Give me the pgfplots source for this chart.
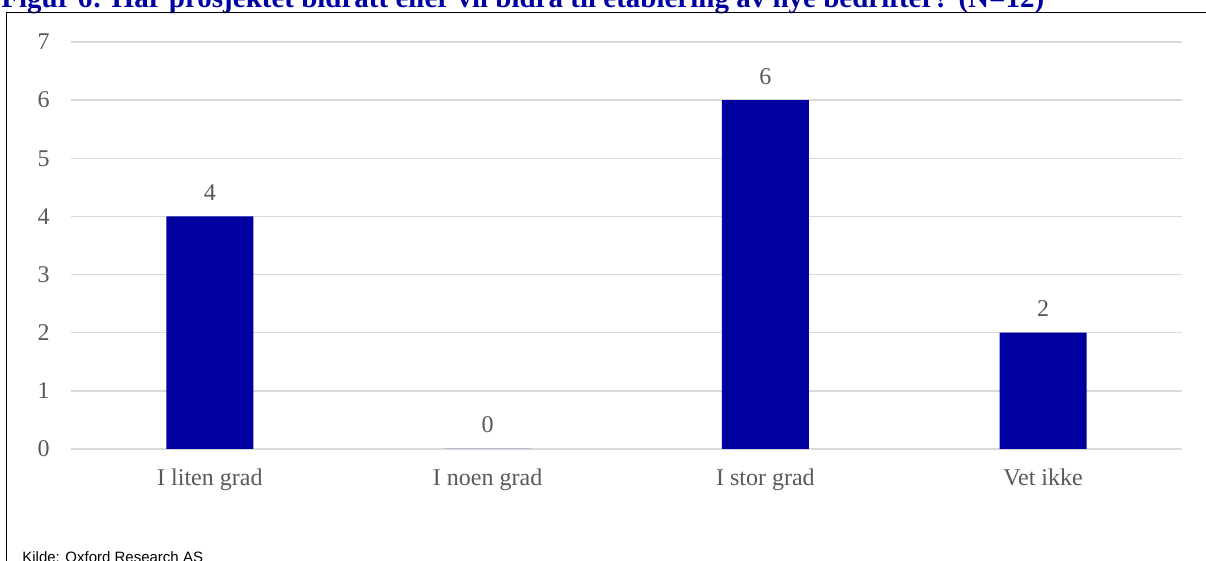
\documentclass[border=0pt]{standalone}
\usepackage{pgfplots}
\pgfplotsset{compat=1.18}
\usepackage{fontspec}
\setmainfont{Liberation Serif}
\newfontfamily\kildefont{Liberation Sans}
\definecolor{barblue}{RGB}{0,0,160}
\definecolor{titleblue}{RGB}{0,0,160}
\definecolor{lblgray}{RGB}{89,89,89}
\definecolor{gridgray}{RGB}{217,217,217}

\begin{document}
\begin{tikzpicture}[x=1pt,y=1pt]
\useasboundingbox (0,0) rectangle (603,280.5);
\node[anchor=base west, inner sep=0pt, text=titleblue, font=\fontsize{14.5}{17}\selectfont\bfseries] at (0.5,276.5) {Figur 6: Har prosjektet bidratt eller vil bidra til etablering av nye bedrifter? (N=12)};
\draw[line width=0.85pt] (603,274.25) -- (3.25,274.25) -- (3.25,-1);
\begin{axis}[
  at={(35.5pt,56pt)}, anchor=south west, scale only axis,
  width=555.5pt, height=203.5pt,
  xmin=-0.5, xmax=3.5, ymin=0, ymax=7,
  ybar, bar width=43.5pt,
  xtick={0,1,2,3}, xticklabels={I liten grad, I noen grad, I stor grad, Vet ikke},
  ytick={0,...,7},
  axis line style={draw=none},
  major tick length=0pt,
  ymajorgrids, grid style={gridgray, line width=0.75pt},
  tick label style={font=\fontsize{12}{14}\selectfont, text=lblgray},
  yticklabel style={anchor=east, inner sep=0pt, xshift=-10.5pt},
  xticklabel style={anchor=base, inner sep=0pt, yshift=-18.5pt},
  nodes near coords,
  nodes near coords style={font=\fontsize{12}{14}\selectfont, text=lblgray, anchor=base, inner sep=0pt, yshift=8pt},
  /pgf/number format/assume math mode=true,
]
\addplot[fill=barblue, draw=none] coordinates {(0,4) (1,0) (2,6) (3,2)};
\end{axis}
\node[anchor=base west, inner sep=0pt, font=\kildefont\fontsize{7.5}{9}\selectfont] at (11,-1) {Kilde: Oxford Research AS};
\end{tikzpicture}
\end{document}
